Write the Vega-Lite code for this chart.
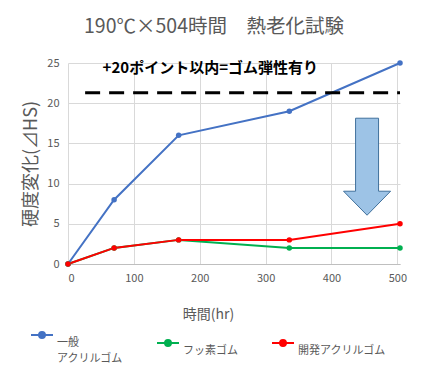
{
  "$schema": "https://vega.github.io/schema/vega-lite/v6.json",
  "width": 332,
  "height": 201,
  "autosize": "none",
  "padding": {"left": 68, "top": 63, "right": 25, "bottom": 119},
  "background": "white",
  "title": {
    "text": "190℃×504時間　熱老化試験",
    "fontSize": 19.5,
    "fontWeight": "normal",
    "font": "Noto Sans CJK JP",
    "color": "#595959",
    "anchor": "middle",
    "dx": -20,
    "offset": 20
  },
  "config": {
    "font": "Noto Sans CJK JP",
    "view": {"stroke": null},
    "axis": {
      "gridColor": "#D9D9D9",
      "domainColor": "#BFBFBF",
      "ticks": false,
      "labelColor": "#595959",
      "labelFontSize": 11,
      "titleColor": "#595959",
      "titleFontWeight": "normal"
    }
  },
  "layer": [
    {
      "data": {
        "values": [
          {"t": 0, "v": 0, "s": "一般アクリルゴム"},
          {"t": 70, "v": 8, "s": "一般アクリルゴム"},
          {"t": 168, "v": 16, "s": "一般アクリルゴム"},
          {"t": 336, "v": 19, "s": "一般アクリルゴム"},
          {"t": 504, "v": 25, "s": "一般アクリルゴム"},
          {"t": 0, "v": 0, "s": "フッ素ゴム"},
          {"t": 70, "v": 2, "s": "フッ素ゴム"},
          {"t": 168, "v": 3, "s": "フッ素ゴム"},
          {"t": 336, "v": 2, "s": "フッ素ゴム"},
          {"t": 504, "v": 2, "s": "フッ素ゴム"},
          {"t": 0, "v": 0, "s": "開発アクリルゴム"},
          {"t": 70, "v": 2, "s": "開発アクリルゴム"},
          {"t": 168, "v": 3, "s": "開発アクリルゴム"},
          {"t": 336, "v": 3, "s": "開発アクリルゴム"},
          {"t": 504, "v": 5, "s": "開発アクリルゴム"}
        ]
      },
      "mark": {"type": "line", "strokeWidth": 2, "point": {"size": 30, "filled": true}},
      "encoding": {
        "x": {
          "field": "t", "type": "quantitative",
          "scale": {"domain": [0, 504], "nice": false},
          "axis": {"values": [0, 100, 200, 300, 400, 500], "title": "時間(hr)", "titleFontSize": 14, "labelPadding": 8, "titlePadding": 24, "titleX": 140, "titleAlign": "center", "titleAnchor": null}
        },
        "y": {
          "field": "v", "type": "quantitative",
          "scale": {"domain": [0, 25], "nice": false},
          "axis": {"values": [0, 5, 10, 15, 20, 25], "title": "硬度変化(⊿HS)", "titleFontSize": 18, "labelPadding": 9, "titlePadding": 6, "domain": false}
        },
        "color": {
          "field": "s", "type": "nominal",
          "scale": {"domain": ["一般アクリルゴム", "フッ素ゴム", "開発アクリルゴム"], "range": ["#4472C4", "#00B050", "#FF0000"]},
          "legend": {
            "orient": "none",
            "legendX": -38,
            "legendY": 260,
            "direction": "horizontal",
            "columns": 3,
            "title": null,
            "symbolType": "M-1,0H1M0.27,0A0.27,0.27 0 1,1 -0.27,0A0.27,0.27 0 1,1 0.27,0",
            "symbolSize": 484,
            "symbolStrokeWidth": 2,
            "labelFontSize": 11,
            "labelColor": "#595959",
            "labelBaseline": "top",
            "labelOffset": 3,
            "columnPadding": 30,
            "labelExpr": "datum.label == '一般アクリルゴム' ? ['一般', 'アクリルゴム'] : datum.label",
            "encode": {
              "symbols": {"update": {"fill": {"scale": "color", "field": "value"}}},
              "labels": {"update": {"lineHeight": {"value": 16}, "dy": {"value": 2}}}
            }
          }
        }
      }
    },
    {
      "data": {"values": [{"x": 26, "x2": 504, "y": 21.3}]},
      "mark": {"type": "rule", "color": "black", "strokeWidth": 3, "strokeDash": [15, 9]},
      "encoding": {
        "x": {"field": "x", "type": "quantitative"},
        "x2": {"field": "x2"},
        "y": {"field": "y", "type": "quantitative"}
      }
    },
    {
      "data": {"values": [{"x": 216, "y": 24.4, "label": "+20ポイント以内=ゴム弾性有り"}]},
      "mark": {"type": "text", "fontSize": 15, "fontWeight": "bold", "color": "black", "font": "Noto Sans CJK JP"},
      "encoding": {
        "x": {"field": "x", "type": "quantitative"},
        "y": {"field": "y", "type": "quantitative"},
        "text": {"field": "label"}
      }
    },
    {
      "data": {"values": [{"x": 454, "y": 12.1}]},
      "mark": {
        "type": "point",
        "shape": "M-0.237,-1L0.237,-1L0.237,0.505L0.485,0.505L0,1L-0.485,0.505L-0.237,0.505Z",
        "size": 9409,
        "filled": true,
        "fill": "#9DC3E6",
        "stroke": "#41719C",
        "strokeWidth": 1,
        "opacity": 1
      },
      "encoding": {
        "x": {"field": "x", "type": "quantitative"},
        "y": {"field": "y", "type": "quantitative"}
      }
    }
  ]
}
